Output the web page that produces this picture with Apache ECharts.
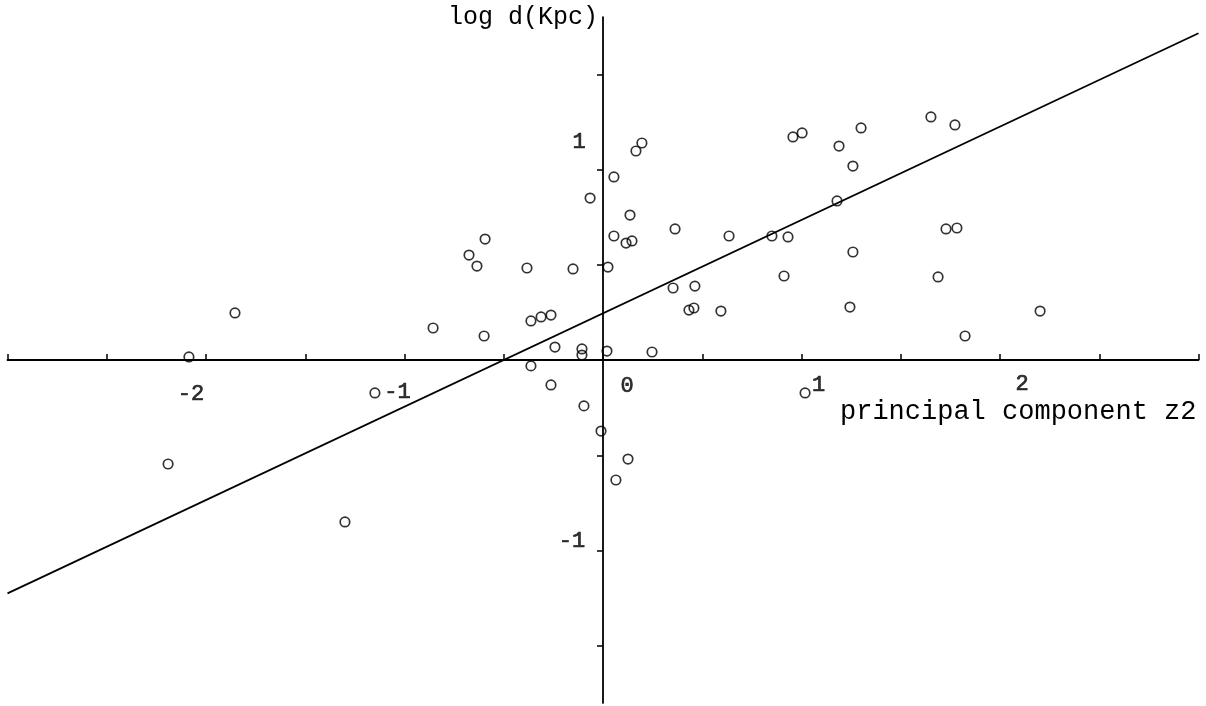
<!DOCTYPE html>
<html>
<head>
<meta charset="utf-8">
<script src="https://cdn.jsdelivr.net/npm/echarts@6/dist/echarts.min.js"></script>
<style>html,body{margin:0;padding:0;background:#fff}#c{width:1206px;height:706px}</style>
</head>
<body>
<div id="c"></div>
<script>
// ---- data ----
const pointsX = [-2.086,-1.854,-2.191,-1.300,-1.149,-0.856,-0.675,-0.635,-0.594,-0.599,
  -0.383,-0.363,-0.312,-0.262,-0.242,-0.363,-0.262,-0.151,-0.106,-0.106,
  -0.096,-0.065,-0.010,0.020,0.025,0.055,0.055,0.065,0.116,0.136,
  0.146,0.126,0.166,0.196,0.247,0.353,0.363,0.433,0.458,0.463,
  0.594,0.635,0.851,0.912,0.932,0.957,1.003,1.018,1.179,1.189,
  1.244,1.259,1.259,1.300,1.652,1.688,1.728,1.773,1.783,1.824,2.202];
const pointsY = [0.016,0.247,-0.546,-0.850,-0.173,0.168,0.551,0.493,0.635,0.126,
  0.483,0.205,0.226,0.236,0.068,-0.031,-0.131,0.478,0.058,0.026,
  -0.241,0.850,-0.373,0.047,0.488,0.961,0.651,-0.630,0.614,0.761,
  0.625,-0.520,1.097,1.139,0.042,0.378,0.688,0.262,0.273,0.388,
  0.257,0.651,0.651,0.441,0.646,1.171,1.192,-0.173,0.835,1.123,
  0.278,1.018,0.567,1.218,1.276,0.436,0.688,1.234,0.693,0.126,0.257];
const fitX = [-3, 3];
const fitY = [-1.225, 1.715];
const xTicks = [-3,-2.5,-2,-1.5,-1,-0.5,0,0.5,1,1.5,2,2.5,3];
const yTicks = [-1.5,-1,-0.5,0.5,1,1.5];
const xLabelValues = [-2,-1,0,1,2];
const xLabelTexts = ['-2','-1','0','1','2'];
const yLabelValues = [-1,1];
const yLabelTexts = ['-1','1'];
const xTitle = 'principal component z2';
const yTitle = 'log d(Kpc)';

// ---- styling ----
const FONT = '"Liberation Mono", "DejaVu Sans Mono", monospace';
// pixel nudges of the hand-placed tick labels relative to their tick
const xLabelNudge = [[-15,34],[-7,32],[24,26],[17,25],[22,24]];
const yLabelNudge = [[-31,-9],[-24,-27]];

const labelStyle = {fontFamily:FONT, fontSize:22, color:'#000', textBorderColor:'#000', textBorderWidth:0.7, textShadowBlur:0};
const tickLabelSeries = [];
xLabelValues.forEach((v,i)=>{
  tickLabelSeries.push({
    type:'scatter', silent:true, symbolSize:0, z:4,
    data:[[v,0]],
    label:Object.assign({show:true, position:'inside', offset:xLabelNudge[i], formatter:xLabelTexts[i]}, labelStyle)
  });
});
yLabelValues.forEach((v,i)=>{
  tickLabelSeries.push({
    type:'scatter', silent:true, symbolSize:0, z:4,
    data:[[0,v]],
    label:Object.assign({show:true, position:'inside', offset:yLabelNudge[i], formatter:yLabelTexts[i]}, labelStyle)
  });
});

const chart = echarts.init(document.getElementById('c'), null, {renderer:'canvas'});
chart.setOption({
  animation: false,
  backgroundColor: '#fff',
  grid: {left: 7.5, right: 7.5, top: 17.1, bottom: 3.1, containLabel: false, outerBoundsMode: 'none'},
  xAxis: {
    type: 'value', min: -3, max: 3,
    axisLine: {onZero: true, lineStyle: {color:'#000', width: 1.8}},
    axisTick: {show: true, inside: true, length: 6, lineStyle:{color:'#000', width:1.5}, customValues: xTicks},
    axisLabel: {show: false},
    splitLine: {show:false}
  },
  yAxis: {
    type: 'value', min: -1.8, max: 1.8,
    axisLine: {onZero: true, lineStyle: {color:'#000', width: 1.8}},
    axisTick: {show: true, inside: false, length: 6, lineStyle:{color:'#000', width:1.5}, customValues: yTicks},
    axisLabel: {show: false},
    splitLine: {show:false}
  },
  graphic: [
    {type:'text', left: 840, top: 398, style:{text: xTitle, font: '27px ' + FONT, fill:'#000'}},
    {type:'text', right: 1206-598, top: 5, style:{text: yTitle, font: '25px ' + FONT, fill:'#000'}}
  ],
  series: [
    {
      type: 'line', data: fitX.map((x,i)=>[x, fitY[i]]),
      symbol: 'none', lineStyle: {color:'#000', width: 1.7}, z: 2, silent:true
    },
    {
      type: 'scatter', data: pointsX.map((x,i)=>[x, pointsY[i]]),
      symbol: 'circle', symbolSize: 9.5,
      itemStyle: {color: 'rgba(255,255,255,0)', borderColor:'#000', borderWidth: 1.7}, z: 3
    }
  ].concat(tickLabelSeries)
});
</script>
</body>
</html>
